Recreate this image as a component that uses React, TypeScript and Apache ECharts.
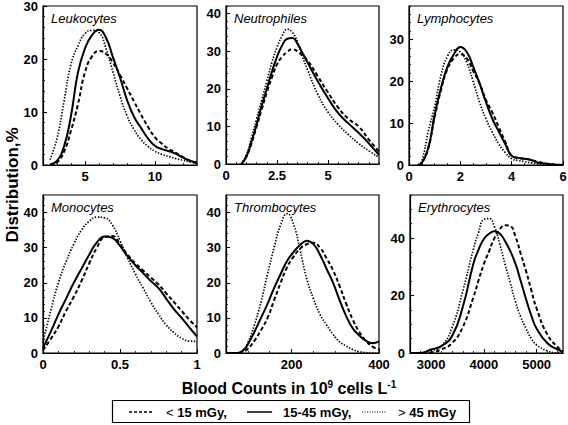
import React, { useEffect, useRef } from "react";
import * as echarts from "echarts";

const FONT = "'Liberation Sans', Arial, Helvetica, sans-serif";

const seriesNames = ["< 15 mGy", "15-45 mGy", "> 45 mGy"];

// Leukocytes
const leukoX = [2.5, 3, 3.5, 4, 4.5, 5, 5.5, 6, 6.5, 7, 7.5, 8, 8.5, 9, 9.5, 10, 10.5, 11, 11.5, 12, 12.5, 13];
const leukoLow = [0, 0.5, 2.5, 6.5, 11.5, 17.5, 20.5, 21.5, 21, 19.3, 17, 14.5, 12, 9.5, 7.2, 5.2, 4, 3, 2.3, 1.5, 0.8, 0.3];
const leukoMid = [0.1, 0.8, 3.5, 9.3, 17.5, 22, 24.5, 25.5, 24, 20.3, 16.5, 12.3, 9.1, 7, 5, 3.6, 3, 2.6, 2.1, 1.4, 0.8, 0.5];
const leukoHigh = [1, 5, 12, 19, 22.5, 24.8, 25.4, 25, 22, 17.5, 13, 9.3, 6.7, 4.8, 3.5, 2.6, 2, 1.6, 1.2, 0.9, 0.6, 0.3];

// Neutrophiles
const neutroX = [0.75, 1, 1.25, 1.5, 1.75, 2, 2.25, 2.5, 2.75, 3, 3.25, 3.5, 3.75, 4, 4.5, 5, 5.5, 6, 6.5, 7, 7.5];
const neutroLow = [0, 2, 5.5, 10, 14.5, 19, 23, 26.5, 28.5, 29.8, 30.5, 30, 28.8, 27.5, 23.3, 19, 15, 12, 10, 6.5, 3.3];
const neutroMid = [0, 2, 6, 10.5, 15.5, 20, 24.5, 28.5, 31.5, 33.3, 33.5, 32, 29.5, 27, 22, 17.5, 13.5, 10.8, 8.3, 5.5, 2.4];
const neutroHigh = [0, 2.5, 7, 12, 17, 22, 27, 31, 34, 35.8, 35, 32.5, 28.5, 25, 18.5, 13.8, 10.5, 7.8, 5.5, 3.5, 1.8];

// Lymphocytes
const lymphoX = [0.35, 0.5, 0.75, 1, 1.25, 1.5, 1.75, 2, 2.25, 2.5, 2.75, 3, 3.25, 3.5, 3.75, 4, 4.25, 4.5, 4.75, 5, 5.5, 6];
const lymphoLow = [0, 0.5, 4, 11.5, 18, 23, 25.5, 26.5, 25.5, 22.5, 19.5, 15.5, 12.5, 9, 5.5, 2.2, 1.7, 1.5, 1.2, 0.8, 0.2, 0];
const lymphoMid = [0, 0.5, 4, 12, 18.5, 23.5, 26.5, 28.2, 27, 23.5, 19.5, 15, 11, 8, 5, 2.2, 1.7, 1.5, 1.2, 0.6, 0.2, 0];
const lymphoHigh = [0, 1, 8, 14, 21.5, 26, 27.5, 27, 24.5, 20, 15, 11, 7.8, 5, 3, 1.5, 1.1, 0.8, 0.5, 0.3, 0.1, 0];

// Monocytes
const monoX = [0, 0.05, 0.1, 0.15, 0.2, 0.25, 0.3, 0.35, 0.4, 0.45, 0.5, 0.55, 0.6, 0.65, 0.7, 0.75, 0.8, 0.85, 0.9, 0.95, 1];
const monoLow = [0.8, 4, 7.5, 12, 16, 20.5, 25.5, 30, 33, 33.3, 31, 28, 25.5, 23.5, 21.5, 19.5, 17, 14.5, 12, 9.5, 7.3];
const monoMid = [1.5, 6, 11, 15.5, 20, 24, 28, 31.5, 33.2, 32.8, 30.5, 27.5, 25, 22.8, 20.5, 18.5, 15.5, 12.5, 10, 7.3, 4.7];
const monoHigh = [3, 12, 20, 26, 31, 35, 37.5, 38.7, 38.5, 36.5, 32, 27, 22.5, 18.5, 14.5, 11, 8, 5.8, 4.2, 3.4, 3.3];

// Thrombocytes
const thromboX = [50, 75, 90, 100, 115, 130, 145, 160, 175, 190, 205, 220, 235, 250, 265, 280, 295, 310, 325, 340, 355, 370, 385, 400];
const thromboLow = [0, 0, 0.4, 1.2, 3.5, 6.5, 10, 15, 20, 24.5, 27.5, 29.8, 31, 31.4, 30, 27, 23.5, 19, 14, 9.5, 6, 3.5, 1.8, 1];
const thromboMid = [0, 0, 0.8, 2.5, 6, 10, 14, 18.5, 22.5, 26.3, 28.8, 30.8, 32, 31, 28, 24, 20, 15, 10.5, 7, 5, 3.5, 2.8, 3.3];
const thromboHigh = [0, 0, 1, 3, 8, 14.5, 22.5, 30, 36.5, 39.7, 36.5, 29, 21, 15.5, 11, 8, 5.3, 3.2, 2, 1, 0.4, 0.1, 0, 0];

// Erythrocytes
const erythroX = [2600, 2800, 3000, 3200, 3400, 3600, 3800, 3900, 4000, 4100, 4200, 4300, 4400, 4500, 4600, 4700, 4800, 4900, 5000, 5200, 5400, 5500];
const erythroLow = [0, 0, 0.2, 1.3, 3.5, 9, 19.3, 25.3, 31, 35.5, 40, 43, 44.5, 44.2, 40.5, 34.5, 28.5, 21.8, 15.5, 6.5, 2, 0.5];
const erythroMid = [0, 0, 1.2, 2.5, 6, 16, 31, 36, 39.7, 41.5, 42.4, 41.6, 39, 35.5, 31, 25, 18.7, 13, 8.5, 3.5, 1.2, 0.5];
const erythroHigh = [0, 0, 0.8, 2.5, 9, 21.5, 36, 42, 46.5, 46.8, 44, 38, 31, 24.5, 17.8, 12.5, 8.5, 5, 2.8, 0.8, 0, 0];

// Tick labels
const leukoXTicks = [5, 10];
const neutroXTicks = [0, 2.5, 5];
const lymphoXTicks = [0, 2, 4, 6];
const monoXTicks = [0, 0.5, 1];
const thromboXTicks = [200, 400];
const erythroXTicks = [3000, 4000, 5000];
const leukoYTicks = [0, 10, 20, 30];
const neutroYTicks = [0, 10, 20, 30, 40];
const lymphoYTicks = [0, 10, 20, 30];
const monoYTicks = [0, 10, 20, 30, 40];
const thromboYTicks = [0, 10, 20, 30, 40];
const erythroYTicks = [0, 20, 40];

function range(a: number, b: number, s: number) {
  const out: number[] = [];
  for (let v = a; v <= b + 1e-9; v += s) out.push(+v.toFixed(6));
  return out;
}

const panels = [
  { title: "Leukocytes", x: leukoX, ys: [leukoLow, leukoMid, leukoHigh], xMin: 2, xMax: 13, xTicks: leukoXTicks, xMinor: range(2, 13, 1), yMax: 30, yTicks: leukoYTicks, yMinor: range(0, 30, 2), left: 43, top: 6, width: 154, height: 159 },
  { title: "Neutrophiles", x: neutroX, ys: [neutroLow, neutroMid, neutroHigh], xMin: 0, xMax: 7.5, xTicks: neutroXTicks, xMinor: range(0, 7.5, 0.5), yMax: 42, yTicks: neutroYTicks, yMinor: range(0, 42, 2), left: 226, top: 6, width: 153, height: 158 },
  { title: "Lymphocytes", x: lymphoX, ys: [lymphoLow, lymphoMid, lymphoHigh], xMin: 0, xMax: 6, xTicks: lymphoXTicks, xMinor: range(0, 6, 0.5), yMax: 38, yTicks: lymphoYTicks, yMinor: range(0, 38, 2), left: 409, top: 6, width: 154, height: 159 },
  { title: "Monocytes", x: monoX, ys: [monoLow, monoMid, monoHigh], xMin: 0, xMax: 1, xTicks: monoXTicks, xMinor: range(0, 1, 0.1), yMax: 45, yTicks: monoYTicks, yMinor: range(0, 45, 2), left: 43, top: 195, width: 154, height: 158 },
  { title: "Thrombocytes", x: thromboX, ys: [thromboLow, thromboMid, thromboHigh], xMin: 50, xMax: 400, xTicks: thromboXTicks, xMinor: range(50, 400, 50), yMax: 45, yTicks: thromboYTicks, yMinor: range(0, 45, 2), left: 226, top: 195, width: 153, height: 158 },
  { title: "Erythrocytes", x: erythroX, ys: [erythroLow, erythroMid, erythroHigh], xMin: 2600, xMax: 5500, xTicks: erythroXTicks, xMinor: range(2600, 5500, 200), yMax: 55, yTicks: erythroYTicks, yMinor: range(0, 55, 5), left: 410, top: 195, width: 153, height: 158 },
];

const lineStyles = [
  { width: 2, type: [4, 2.5] as any },
  { width: 2, type: "solid" as any },
  { width: 1.7, type: [1.4, 1.6] as any },
];

const plain = (v: number) => String(v);

export default function App() {
  const ref = useRef<HTMLDivElement>(null);
  useEffect(() => {
    document.body.style.margin = "0";
    const chart = echarts.init(ref.current!, null, { renderer: "svg" });
    const grid = panels.map((p) => ({
      left: p.left,
      top: p.top,
      width: p.width,
      height: p.height,
      show: true,
      borderColor: "#000",
      borderWidth: 1.2,
      backgroundColor: "transparent",
      outerBoundsMode: "none",
    }));
    const xAxis: any[] = [];
    const yAxis: any[] = [];
    panels.forEach((p, i) => {
      xAxis.push({
        gridIndex: i, type: "value", position: "bottom", min: p.xMin, max: p.xMax,
        axisLine: { show: true, onZero: false, lineStyle: { color: "#000", width: 1.2 } },
        axisTick: { show: true, inside: true, length: 4, customValues: p.xTicks, lineStyle: { color: "#000", width: 1 } },
        axisLabel: { customValues: p.xTicks, formatter: plain, color: "#000", fontWeight: "bold", fontSize: 13, fontFamily: FONT, margin: 5 },
        splitLine: { show: false },
      });
      xAxis.push({
        gridIndex: i, type: "value", position: "bottom", min: p.xMin, max: p.xMax,
        axisLine: { show: false, onZero: false },
        axisTick: { show: true, inside: true, length: 2, customValues: p.xMinor, lineStyle: { color: "#000", width: 0.8 } },
        axisLabel: { show: false },
        splitLine: { show: false },
      });
      yAxis.push({
        gridIndex: i, type: "value", position: "left", min: 0, max: p.yMax,
        axisLine: { show: true, onZero: false, lineStyle: { color: "#000", width: 1.2 } },
        axisTick: { show: true, inside: true, length: 4, customValues: p.yTicks, lineStyle: { color: "#000", width: 1 } },
        axisLabel: { customValues: p.yTicks, formatter: plain, color: "#000", fontWeight: "bold", fontSize: 13, fontFamily: FONT, margin: 5 },
        splitLine: { show: false },
      });
      yAxis.push({
        gridIndex: i, type: "value", position: "left", min: 0, max: p.yMax,
        axisLine: { show: false, onZero: false },
        axisTick: { show: true, inside: true, length: 2, customValues: p.yMinor, lineStyle: { color: "#000", width: 0.8 } },
        axisLabel: { show: false },
        splitLine: { show: false },
      });
    });
    const series: any[] = [];
    panels.forEach((p, i) => {
      p.ys.forEach((ys, k) => {
        series.push({
          name: seriesNames[k],
          type: "line",
          xAxisIndex: 2 * i,
          yAxisIndex: 2 * i,
          data: p.x.map((xv, j) => [xv, ys[j]]),
          symbol: "none",
          showSymbol: false,
          smooth: 0.5,
          lineStyle: { color: "#000", width: lineStyles[k].width, type: lineStyles[k].type },
          z: 3 - k,
        });
      });
    });
    const graphic: any[] = [];
    panels.forEach((p) => {
      graphic.push({
        type: "text", x: p.left + 8, y: p.top + 12,
        style: { text: p.title, font: `italic 13px ${FONT}`, fill: "#000", textVerticalAlign: "middle" },
      });
    });
    graphic.push({
      type: "text", x: 12, y: 185, rotation: Math.PI / 2,
      style: { text: "Distribution,%", font: `bold 17px ${FONT}`, fill: "#000", textAlign: "center", textVerticalAlign: "middle" },
    });
    graphic.push({
      type: "text", x: 289, y: 388,
      style: {
        text: "Blood Counts in 10{sup|9} cells L{sup|-1}",
        font: `bold 16px ${FONT}`, fontFamily: FONT, fontWeight: "bold", fontSize: 16, fill: "#000", align: "center", verticalAlign: "middle",
        rich: { sup: { fontSize: 10, fontWeight: "bold", fontFamily: FONT, verticalAlign: "top", padding: [0, 0, 8, 0] } },
      },
    });
    // legend box
    graphic.push({ type: "rect", shape: { x: 112.5, y: 400.5, width: 357, height: 22 }, style: { fill: "#fff", stroke: "#000", lineWidth: 1.2 } });
    const legendItems = [
      { x1: 129, x2: 153, tx: 166, sym: "<", label: " 15 mGy," },
      { x1: 247, x2: 272, tx: 283, sym: "", label: "15-45 mGy," },
      { x1: 362, x2: 387, tx: 398, sym: ">", label: " 45 mGy" },
    ];
    legendItems.forEach((it, k) => {
      graphic.push({
        type: "line", shape: { x1: it.x1, y1: 412, x2: it.x2, y2: 412 },
        style: { stroke: "#000", lineWidth: k === 2 ? 1.2 : 1.5, lineDash: k === 0 ? [3, 2] : k === 2 ? [1, 1.5] : null },
      });
      graphic.push({
        type: "text", x: it.tx, y: 412,
        style: {
          text: (it.sym ? `{s|${it.sym}}` : "") + `{b|${it.label}}`,
          fill: "#000", verticalAlign: "middle", align: "left",
          rich: {
            s: { fontSize: 13, fontFamily: FONT, fontWeight: "normal" },
            b: { fontSize: 13, fontFamily: FONT, fontWeight: "bold" },
          },
        },
      });
    });
    chart.setOption({
      animation: false,
      backgroundColor: "#fff",
      grid,
      xAxis,
      yAxis,
      series,
      graphic,
    });
    return () => chart.dispose();
  }, []);
  return <div ref={ref} style={{ width: 568, height: 425 }} />;
}
